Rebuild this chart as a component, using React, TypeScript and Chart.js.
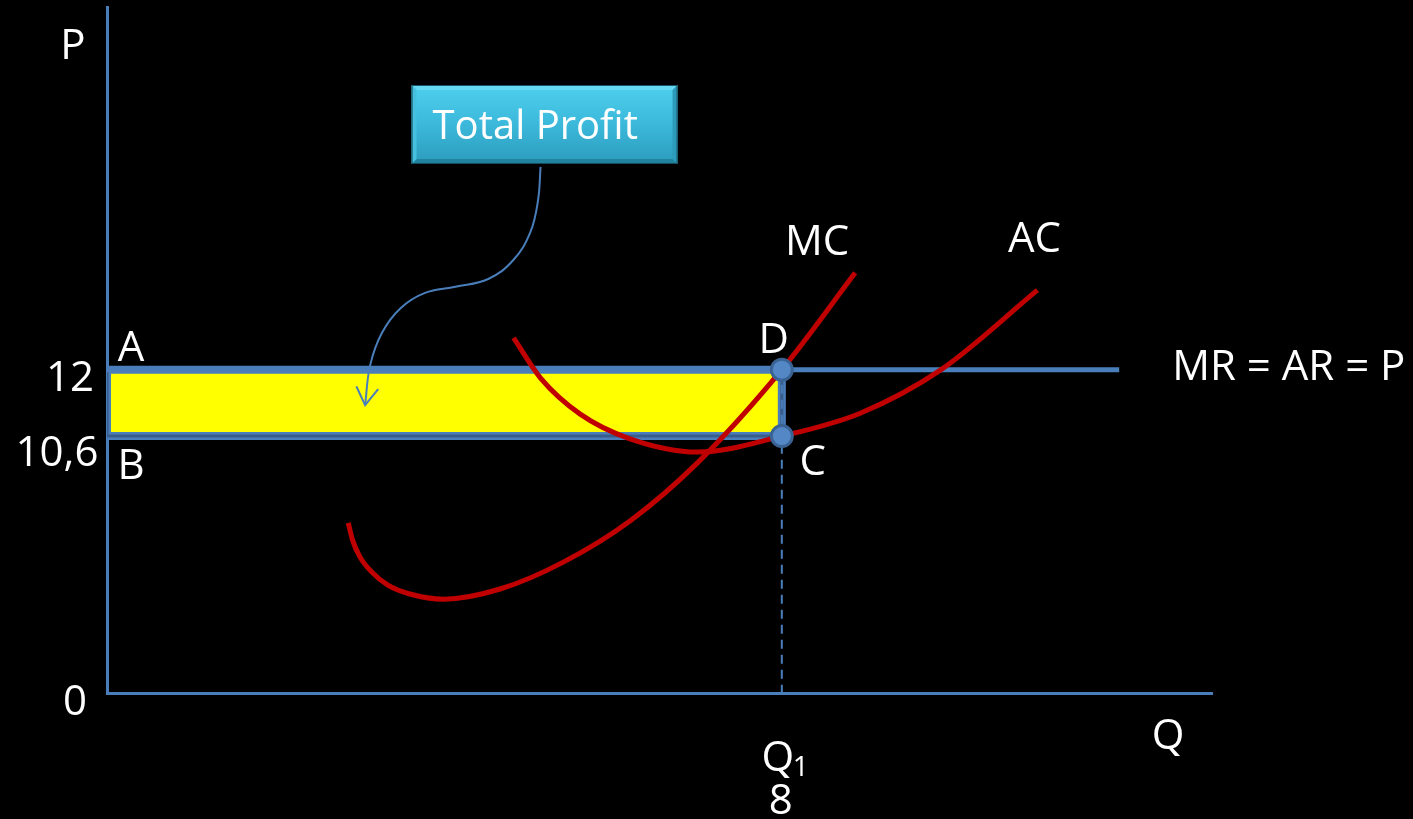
import { useEffect, useRef } from 'react';
import { Chart, registerables, LinearScale } from 'chart.js';

// ---- Values (quantity on x, price on y) ----
const QUANTITY_MAX = 13.1;
const PRICE_MAX = 18;
const PRICE = 12; // MR = AR = P
const AVG_COST_AT_Q1 = 10.6; // AC at the profit-maximising output
const Q1 = 8;
const MR_END_Q = 12;

const priceTicks = [0, AVG_COST_AT_Q1, PRICE];
const priceTickLabels = ['0', '10,6', '12'];
const quantityTickLabel = '8';

// Marginal cost curve
const mcQ = [2.86, 2.91, 3.0, 3.14, 3.33, 3.59, 3.99, 4.66, 5.41, 6.2, 7.0, 8, 8.87];
const mcP = [8.49, 8.02, 7.52, 7.06, 6.64, 6.34, 6.16, 6.51, 7.37, 8.54, 9.99, 12, 13.82];

// Average cost curve
const acQ = [4.82, 5.14, 5.61, 6.2, 7.0, 8, 8.93, 9.88, 11.03];
const acP = [12.62, 11.83, 11.08, 10.54, 10.24, 10.6, 11.1, 11.99, 13.51];

// Callout arrow from the "Total Profit" box into the profit rectangle
const arrowQ = [5.14, 5.11, 5.02, 4.82, 4.52, 4.13, 3.77, 3.48, 3.26, 3.12, 3.06];
const arrowP = [15.6, 15.06, 14.53, 14.05, 13.71, 13.57, 13.46, 13.18, 12.72, 12.09, 11.27];

// ---- Colours ----
const AXIS_BLUE = '#4a7ebb';
const DARK_BLUE = '#385d8a';
const CURVE_RED = '#c00000';
const PROFIT_YELLOW = '#ffff00';
const FONT = '"Open Sans", sans-serif';

// Price axis that is stretched towards the top: height grows as value^PRICE_EXP
const PRICE_EXP = 1.855;
const pw = (v: number) => Math.sign(v) * Math.pow(Math.abs(v), PRICE_EXP);
const ipw = (t: number) => Math.sign(t) * Math.pow(Math.abs(t), 1 / PRICE_EXP);

class PowerScale extends LinearScale {
  static id = 'power';
  static defaults = {};
  getPixelForValue(value: number) {
    if (value === null || value === undefined || isNaN(value)) return NaN;
    const lo = pw(this.min);
    const hi = pw(this.max);
    return this.getPixelForDecimal((pw(value) - lo) / (hi - lo));
  }
  getValueForPixel(pixel: number) {
    const lo = pw(this.min);
    const hi = pw(this.max);
    return ipw(lo + this.getDecimalForPixel(pixel) * (hi - lo));
  }
}

Chart.register(...registerables, PowerScale as any);

const pts = (xs: number[], ys: number[]) => xs.map((x, i) => ({ x, y: ys[i] }));

const profitOutline = [
  { x: 0, y: PRICE },
  { x: Q1, y: PRICE },
  { x: Q1, y: AVG_COST_AT_Q1 },
  { x: 0, y: AVG_COST_AT_Q1 },
  { x: 0, y: PRICE },
];

// Draws text with its cap height centred on cy
function text(ctx: CanvasRenderingContext2D, s: string, x: number, cy: number, size = 42, align: CanvasTextAlign = 'center') {
  ctx.font = `${size}px ${FONT}`;
  ctx.textAlign = align;
  ctx.textBaseline = 'alphabetic';
  ctx.fillStyle = '#ffffff';
  ctx.fillText(s, x, cy + size * 0.357 - 3);
}

const annotations = {
  id: 'annotations',
  afterDatasetsDraw(chart: any) {
    const ctx: CanvasRenderingContext2D = chart.ctx;
    const xs = chart.scales.x;
    const ys = chart.scales.y;
    const area = chart.chartArea;
    const X = (v: number) => xs.getPixelForValue(v);
    const Y = (v: number) => ys.getPixelForValue(v);
    ctx.save();

    // Arrow head at the end of the callout curve
    const arrowPts = chart.getDatasetMeta(1).data;
    const tip = arrowPts[arrowPts.length - 1];
    const prev = arrowPts[arrowPts.length - 2];
    const ang = Math.atan2(tip.y - prev.y, tip.x - prev.x);
    const arm = 20;
    const spread = 0.56;
    ctx.strokeStyle = AXIS_BLUE;
    ctx.lineWidth = 2;
    ctx.lineCap = 'round';
    ctx.beginPath();
    ctx.moveTo(tip.x - arm * Math.cos(ang - spread), tip.y - arm * Math.sin(ang - spread));
    ctx.lineTo(tip.x, tip.y);
    ctx.lineTo(tip.x - arm * Math.cos(ang + spread), tip.y - arm * Math.sin(ang + spread));
    ctx.stroke();

    // "Total Profit" box above the start of the arrow
    const start = arrowPts[0];
    const bw = 266;
    const bh = 79;
    const bx = start.x - 129;
    const by = area.top + 78;
    const grad = ctx.createLinearGradient(0, by, 0, by + bh);
    grad.addColorStop(0, '#4fd0ee');
    grad.addColorStop(0.5, '#3bb8da');
    grad.addColorStop(1, '#2c9cbc');
    ctx.fillStyle = grad;
    ctx.fillRect(bx, by, bw, bh);
    const bev = 5;
    const face = (p: number[][], color: string) => {
      ctx.fillStyle = color;
      ctx.beginPath();
      ctx.moveTo(p[0][0], p[0][1]);
      for (let i = 1; i < p.length; i++) ctx.lineTo(p[i][0], p[i][1]);
      ctx.closePath();
      ctx.fill();
    };
    face([[bx, by], [bx + bw, by], [bx + bw - bev, by + bev], [bx + bev, by + bev]], '#66d9f2');
    face([[bx, by + bh], [bx + bw, by + bh], [bx + bw - bev, by + bh - bev], [bx + bev, by + bh - bev]], '#22839e');
    face([[bx, by], [bx + bev, by + bev], [bx + bev, by + bh - bev], [bx, by + bh]], '#45c0df');
    face([[bx + bw, by], [bx + bw - bev, by + bev], [bx + bw - bev, by + bh - bev], [bx + bw, by + bh]], '#2d9bbb');
    ctx.strokeStyle = 'rgba(20,70,85,0.9)';
    ctx.lineWidth = 1;
    ctx.strokeRect(bx + 0.5, by + 0.5, bw - 1, bh - 1);
    text(ctx, 'Total Profit', bx + 21, by + 43, 40, 'left');

    // Axis titles
    text(ctx, 'P', area.left - 34, area.top + 40);
    text(ctx, 'Q', area.right - 44, area.bottom + 44);

    // Price tick labels
    const tickOffsets = [10, 18, 9];
    const tickShift = [-32, -50, -37];
    priceTicks.forEach((v, i) => {
      text(ctx, priceTickLabels[i], X(0) + tickShift[i], Y(v) + tickOffsets[i]);
    });

    // Quantity label under the axis
    text(ctx, 'Q', X(Q1) - 4, area.bottom + 66);
    text(ctx, '1', X(Q1) + 19, area.bottom + 76, 28);
    text(ctx, quantityTickLabel, X(Q1) - 1, area.bottom + 109);

    // Point letters
    text(ctx, 'A', X(0) + 24, Y(PRICE) - 21);
    text(ctx, 'B', X(0) + 24, Y(AVG_COST_AT_Q1) + 31);
    text(ctx, 'D', X(Q1) - 8, Y(PRICE) - 29);
    text(ctx, 'C', X(Q1) + 31, Y(AVG_COST_AT_Q1) + 27);

    // Curve names
    text(ctx, 'MC', X(mcQ[mcQ.length - 1]) - 38, Y(mcP[mcP.length - 1]) - 30);
    text(ctx, 'AC', X(acQ[acQ.length - 1]) - 3, Y(acP[acP.length - 1]) - 50);
    text(ctx, 'MR = AR = P', X(MR_END_Q) + 53, Y(PRICE) - 2, 42, 'left');

    ctx.restore();
  },
};

export default function App() {
  const canvasRef = useRef<HTMLCanvasElement>(null);

  useEffect(() => {
    const canvas = canvasRef.current;
    if (!canvas) return;
    const chart = new Chart(canvas, {
      type: 'line',
      data: {
        datasets: [
          {
            label: 'D, C',
            data: [
              { x: Q1, y: PRICE },
              { x: Q1, y: AVG_COST_AT_Q1 },
            ],
            showLine: false,
            pointRadius: 10.5,
            pointBackgroundColor: '#5487c6',
            pointBorderColor: '#3a6394',
            pointBorderWidth: 3,
            order: 0,
          },
          {
            label: 'callout',
            data: pts(arrowQ, arrowP),
            borderColor: AXIS_BLUE,
            borderWidth: 2,
            tension: 0.4,
            order: 1,
          },
          {
            label: 'MC',
            data: pts(mcQ, mcP),
            borderColor: CURVE_RED,
            borderWidth: 5,
            cubicInterpolationMode: 'monotone',
            order: 2,
          },
          {
            label: 'AC',
            data: pts(acQ, acP),
            borderColor: CURVE_RED,
            borderWidth: 5,
            cubicInterpolationMode: 'monotone',
            order: 2,
          },
          {
            label: 'MR = AR = P',
            data: [
              { x: 0, y: PRICE },
              { x: MR_END_Q, y: PRICE },
            ],
            borderColor: AXIS_BLUE,
            borderWidth: 5,
            order: 3,
          },
          {
            label: 'Q1',
            data: [
              { x: Q1, y: PRICE },
              { x: Q1, y: 0 },
            ],
            borderColor: AXIS_BLUE,
            borderWidth: 2,
            borderDash: [9, 6],
            order: 4,
          },
          {
            label: 'profit edge inner',
            data: profitOutline,
            borderColor: DARK_BLUE,
            borderWidth: 3,
            borderJoinStyle: 'miter',
            order: 5,
          },
          {
            label: 'profit edge',
            data: profitOutline,
            borderColor: AXIS_BLUE,
            borderWidth: 8,
            borderJoinStyle: 'miter',
            order: 6,
          },
          {
            label: 'Total Profit',
            data: [
              { x: 0, y: PRICE },
              { x: Q1, y: PRICE },
            ],
            borderColor: 'rgba(0,0,0,0)',
            borderWidth: 1,
            backgroundColor: PROFIT_YELLOW,
            fill: '+1',
            order: 7,
          },
          {
            label: 'profit base',
            data: [
              { x: 0, y: AVG_COST_AT_Q1 },
              { x: Q1, y: AVG_COST_AT_Q1 },
            ],
            borderColor: 'rgba(0,0,0,0)',
            borderWidth: 1,
            order: 8,
          },
        ],
      },
      options: {
        responsive: false,
        animation: false,
        devicePixelRatio: 1,
        events: [],
        layout: { autoPadding: false, padding: { left: 107, right: 201, top: 7, bottom: 126 } },
        elements: { point: { radius: 0, hoverRadius: 0 }, line: { borderCapStyle: 'butt' } },
        plugins: {
          legend: { display: false },
          tooltip: { enabled: false },
        },
        scales: {
          x: {
            type: 'linear',
            min: 0,
            max: QUANTITY_MAX,
            grid: { display: false, drawTicks: false },
            ticks: { display: false },
            border: { color: AXIS_BLUE, width: 3 },
          },
          y: {
            type: 'power' as any,
            min: 0,
            max: PRICE_MAX,
            grid: { display: false, drawTicks: false },
            ticks: { display: false },
            border: { color: AXIS_BLUE, width: 3 },
          },
        },
      } as any,
      plugins: [annotations],
    } as any);
    return () => chart.destroy();
  }, []);

  return (
    <div style={{ position: 'absolute', left: 0, top: 0, width: 1413, height: 819, background: '#000' }}>
      <canvas ref={canvasRef} width={1413} height={819} style={{ display: 'block', width: 1413, height: 819 }} />
    </div>
  );
}
